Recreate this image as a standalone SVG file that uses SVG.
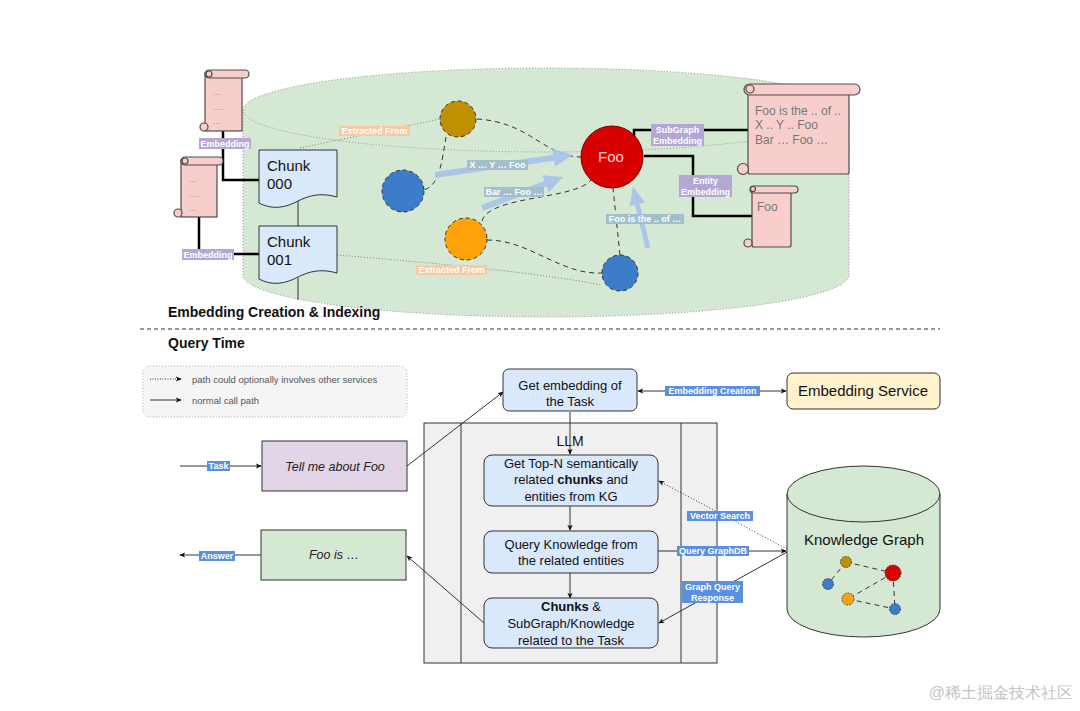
<svg xmlns="http://www.w3.org/2000/svg" width="1080" height="711" viewBox="0 0 1080 711">
<defs>
<style>
text{font-family:"Liberation Sans",Arial,sans-serif;}
.lbl{font-size:9px;font-weight:bold;fill:#fff;text-anchor:middle;}
.pur{fill:#b4a7d6;}
.org{fill:#f9c9a4;}
.tea{fill:#a2bfcb;}
.blu{fill:#5b8fe0;}
.scroll{fill:#f8cecc;stroke:#4d4d4d;stroke-width:1.2;}
.dots{font-size:9px;fill:#999;}
.dash{fill:none;stroke:#333;stroke-width:1;stroke-dasharray:5,4;}
.dot{fill:none;stroke:#666;stroke-width:0.8;stroke-dasharray:1,2;}
.thick{fill:none;stroke:#000;stroke-width:2.5;}
.box{fill:#dae8fc;stroke:#333;stroke-width:1;}
.t13{font-size:13px;fill:#111;text-anchor:middle;}
.line{fill:none;stroke:#333;stroke-width:1;}
.wide{fill:#a9c4eb;opacity:0.95;}
</style>
<marker id="ah" viewBox="0 0 8 8" refX="7" refY="4" markerWidth="6" markerHeight="6" orient="auto-start-reverse" markerUnits="userSpaceOnUse">
<path d="M0,0.5 L8,4 L0,7.5 L2,4 Z" fill="#111"/>
</marker>
</defs>
<rect width="1080" height="711" fill="#fff"/>

<!-- big cylinder -->
<g id="index-store">
<path d="M243,110 A303,42 0 0 1 849,110 V275 A303,42 0 0 1 243,275 Z" fill="#d5e8d4" stroke="#888" stroke-width="0.9" stroke-dasharray="1,2"/>
<path d="M243,110 A303,42 0 0 0 849,110" fill="none" stroke="#888" stroke-width="0.9" stroke-dasharray="1,2"/>
</g>

<g id="llm">
<rect x="424" y="423" width="293" height="240" fill="#f0f0f0" stroke="#333" stroke-width="1"/>
<line x1="461" y1="423" x2="461" y2="663" stroke="#333"/>
<line x1="681" y1="423" x2="681" y2="663" stroke="#333"/>
<text x="570" y="446" font-size="14" fill="#111" text-anchor="middle">LLM</text>
</g>

<!-- connectors -->
<g id="connectors">
<path class="thick" d="M223,131 V180 H260"/>
<path class="thick" d="M199,217 V254 H260"/>
<path class="line" d="M298,201 V226"/>
<path class="line" d="M298,278 V300"/>
<path class="dot" d="M300,148 L440,119"/>
<path class="dot" d="M337,255 C420,262 520,270 602,285"/>
<path class="dash" d="M477,119 C530,122 545,157 581,157"/>
<path class="dash" d="M446,137 C442,160 440,185 424,190"/>
<path class="dash" d="M482,221 C490,195 575,200 591,180"/>
<path class="dash" d="M487,240 C530,240 560,275 602,273"/>
<path class="dash" d="M620,255 L613,188"/>
<g transform="translate(435,175) rotate(-8.3)"><polygon class="wide" points="0,-3 120,-3 120,-9 139,0 120,9 120,3 0,3"/></g>
<g transform="translate(482,208) rotate(-20.9)"><polygon class="wide" points="0,-3 68,-3 68,-9 87,0 68,9 68,3 0,3"/></g>
<g transform="translate(648,248) rotate(-103.8)"><polygon class="wide" points="0,-2.5 45,-2.5 45,-8 63,0 45,8 45,2.5 0,2.5"/></g>
<path class="thick" d="M634,143 V130 H748"/>
<path class="thick" d="M644,156 H693 V216 H752"/>

<line x1="140" y1="329" x2="940" y2="329" stroke="#333" stroke-width="1" stroke-dasharray="4,3"/>
<path class="line" d="M570,412 V454" marker-end="url(#ah)"/>
<path class="line" d="M638,391 H786" marker-start="url(#ah)" marker-end="url(#ah)"/>
<path class="line" d="M570,506 V530" marker-end="url(#ah)"/>
<path class="line" d="M570,573 V598" marker-end="url(#ah)"/>
<path class="line" d="M180,466 H261" marker-end="url(#ah)"/>
<path class="line" d="M407,466 L503,392" marker-end="url(#ah)"/>
<path class="line" d="M484,623 L407,556" marker-end="url(#ah)"/>
<path class="line" d="M261,555 H180" marker-end="url(#ah)"/>
<path class="line" d="M787,549 L659,481" stroke-dasharray="1,2" marker-end="url(#ah)"/>
<path class="line" d="M658,551 H786" marker-end="url(#ah)"/>
<path class="line" d="M787,552 L659,623" marker-end="url(#ah)"/>
</g>

<!-- scrolls -->
<g id="scroll-1">
<rect class="scroll" x="205" y="73" width="37" height="58"/>
<rect class="scroll" x="205" y="70" width="44" height="8" rx="4"/>
<circle class="scroll" cx="209" cy="74" r="3"/>
<circle class="scroll" cx="204" cy="127" r="4"/>
<text class="dots" x="213" y="95">...</text>
<text class="dots" x="213" y="110">....</text>
<text class="dots" x="213" y="124">...</text>
</g>
<g id="scroll-2">
<rect class="scroll" x="181" y="160" width="36" height="57"/>
<rect class="scroll" x="181" y="157" width="42" height="8" rx="4"/>
<circle class="scroll" cx="185" cy="161" r="3"/>
<circle class="scroll" cx="178" cy="213" r="4"/>
<text class="dots" x="189" y="182">...</text>
<text class="dots" x="189" y="197">....</text>
<text class="dots" x="189" y="211">...</text>
</g>
<g id="scroll-subgraph">
<rect class="scroll" x="748" y="90" width="101" height="84" rx="2"/>
<rect class="scroll" x="744" y="84" width="116" height="11" rx="5.5"/>
<circle class="scroll" cx="750" cy="89" r="4"/>
<circle class="scroll" cx="743" cy="169" r="5.5"/>
<text x="755" y="115" font-size="12" fill="#777">Foo is the .. of ..</text>
<text x="755" y="129" font-size="12" fill="#777">X .. Y .. Foo</text>
<text x="755" y="144" font-size="12" fill="#777">Bar … Foo …</text>
</g>
<g id="scroll-entity">
<rect class="scroll" x="752" y="189" width="39" height="58" rx="2"/>
<rect class="scroll" x="750" y="186" width="48" height="7" rx="3.5"/>
<circle class="scroll" cx="753" cy="189" r="2.5"/>
<circle class="scroll" cx="748" cy="243" r="4"/>
<text x="757" y="211" font-size="12" fill="#777">Foo</text>
</g>

<g id="chunk-000">
<path class="box" d="M259,150 H337 V197 C320,192 308,196 298,201 C285,208 272,210 259,203 Z"/>
<text x="267" y="171" font-size="15" fill="#111">Chunk</text>
<text x="267" y="189" font-size="15" fill="#111">000</text>
</g>
<g id="chunk-001">
<path class="box" d="M259,226 H337 V273 C320,268 308,272 298,277 C285,284 272,286 259,279 Z"/>
<text x="267" y="247" font-size="15" fill="#111">Chunk</text>
<text x="267" y="265" font-size="15" fill="#111">001</text>
</g>

<g id="node-gold"><circle cx="458" cy="119" r="18" fill="#bf9000" stroke="#333" stroke-dasharray="4,3"/></g>
<g id="node-blue-left"><circle cx="403" cy="191" r="21" fill="#3d7cc9" stroke="#333" stroke-dasharray="4,3"/></g>
<g id="node-orange"><circle cx="466" cy="239" r="21" fill="#ffa20a" stroke="#333" stroke-dasharray="4,3"/></g>
<g id="node-blue-bottom"><circle cx="620" cy="273" r="18" fill="#3d7cc9" stroke="#333" stroke-dasharray="4,3"/></g>
<g id="node-foo"><circle cx="612" cy="157" r="31" fill="#d80000" stroke="#7a0000" stroke-width="1"/>
<text x="611" y="162" font-size="15" fill="#ffd0d0" text-anchor="middle">Foo</text></g>

<g id="labels-upper">
<rect class="pur" x="199" y="138" width="52" height="11"/><text class="lbl" x="225" y="146.5">Embedding</text>
<rect class="pur" x="182" y="249" width="52" height="11"/><text class="lbl" x="208" y="257.5">Embedding</text>
<rect class="org" x="339" y="126" width="71" height="10"/><text class="lbl" x="374.5" y="134.3">Extracted From</text>
<rect class="org" x="416" y="265" width="71" height="10"/><text class="lbl" x="451.5" y="273.3">Extracted From</text>
<rect class="tea" x="467" y="160" width="61" height="10"/><text class="lbl" x="497.5" y="168.3">X … Y … Foo</text>
<rect class="tea" x="484" y="187" width="60" height="10"/><text class="lbl" x="514" y="195.3">Bar … Foo …</text>
<rect class="tea" x="606" y="214" width="78" height="10"/><text class="lbl" x="645" y="222.3">Foo is the .. of …</text>
<rect class="pur" x="651" y="124" width="53" height="22"/><text class="lbl" x="677.5" y="133">SubGraph</text><text class="lbl" x="677.5" y="144">Embedding</text>
<rect class="pur" x="679" y="175" width="53" height="22"/><text class="lbl" x="705.5" y="184">Entity</text><text class="lbl" x="705.5" y="195">Embedding</text>
</g>

<g id="section-titles">
<text x="168" y="317" font-size="14" font-weight="bold" fill="#111">Embedding Creation &amp; Indexing</text>
<text x="168" y="348" font-size="14" font-weight="bold" fill="#111">Query Time</text>
</g>

<g id="legend">
<rect x="143" y="366" width="264" height="51" rx="7" fill="#f5f5f5" stroke="#999" stroke-width="0.8" stroke-dasharray="1,2"/>
<path class="line" d="M150,379 H181" stroke-dasharray="1,1.5" marker-end="url(#ah)"/>
<text x="192" y="382.5" font-size="9.5" fill="#555">path could optionally involves other services</text>
<path class="line" d="M150,400 H181" marker-end="url(#ah)"/>
<text x="192" y="403.5" font-size="9.5" fill="#555">normal call path</text>
</g>

<g id="get-embedding">
<rect class="box" x="503" y="369" width="134" height="42" rx="6"/>
<text class="t13" x="570" y="390">Get embedding of</text>
<text class="t13" x="570" y="406">the Task</text>
</g>
<g id="embedding-service">
<rect x="787" y="373" width="153" height="36" rx="6" fill="#fff2cc" stroke="#333" stroke-width="1"/>
<text x="863" y="396" font-size="15" fill="#111" text-anchor="middle">Embedding Service</text>
</g>
<g id="top-n">
<rect class="box" x="484" y="455" width="174" height="51" rx="8"/>
<text class="t13" x="571" y="467.5">Get Top-N semantically</text>
<text class="t13" x="571" y="484">related <tspan font-weight="bold">chunks</tspan> and</text>
<text class="t13" x="571" y="500.5">entities from KG</text>
</g>
<g id="query-knowledge">
<rect class="box" x="484" y="531" width="174" height="42" rx="8"/>
<text class="t13" x="571" y="549">Query Knowledge from</text>
<text class="t13" x="571" y="565">the related entities</text>
</g>
<g id="chunks-result">
<rect class="box" x="484" y="598" width="174" height="50" rx="8"/>
<text class="t13" x="571" y="611"><tspan font-weight="bold">Chunks</tspan> &amp;</text>
<text class="t13" x="571" y="628">SubGraph/Knowledge</text>
<text class="t13" x="571" y="645">related to the Task</text>
</g>
<g id="task-box">
<rect x="262" y="441" width="145" height="50" fill="#e1d5e7" stroke="#333" stroke-width="1"/>
<text x="335" y="470.5" font-size="12.5" font-style="italic" fill="#222" text-anchor="middle" font-family="'DejaVu Sans',sans-serif">Tell me about Foo</text>
</g>
<g id="answer-box">
<rect x="261" y="530" width="145" height="50" fill="#d5e8d4" stroke="#333" stroke-width="1"/>
<text x="334" y="559" font-size="12.5" font-style="italic" fill="#222" text-anchor="middle" font-family="'DejaVu Sans',sans-serif">Foo is …</text>
</g>

<g id="knowledge-graph">
<path d="M787,494 A76.5,28 0 0 1 940,494 V609 A76.5,28 0 0 1 787,609 Z" fill="#d5e8d4" stroke="#333" stroke-width="1"/>
<path d="M787,494 A76.5,28 0 0 0 940,494" fill="none" stroke="#333" stroke-width="1"/>
<text x="864" y="545" font-size="15" fill="#111" text-anchor="middle">Knowledge Graph</text>
<path class="dash" d="M846,562 L893,573 M846,562 L828,584 M893,573 L848,599 M893,573 L895,609 M848,599 L895,609" stroke-dasharray="4,3"/>
<circle cx="846" cy="562" r="5.5" fill="#bf9000" stroke="#333" stroke-width="0.8" stroke-dasharray="2,1"/>
<circle cx="893" cy="573" r="8" fill="#d80000" stroke="#333" stroke-width="0.8" stroke-dasharray="2,1"/>
<circle cx="828" cy="584" r="5.5" fill="#3d7cc9" stroke="#333" stroke-width="0.8" stroke-dasharray="2,1"/>
<circle cx="848" cy="599" r="6" fill="#ffa20a" stroke="#333" stroke-width="0.8" stroke-dasharray="2,1"/>
<circle cx="895" cy="609" r="5.5" fill="#3d7cc9" stroke="#333" stroke-width="0.8" stroke-dasharray="2,1"/>
</g>

<g id="labels-lower">
<rect class="blu" x="665" y="386" width="95" height="10"/><text class="lbl" x="712.5" y="394.3">Embedding Creation</text>
<rect class="blu" x="207" y="461" width="23" height="10"/><text class="lbl" x="218.5" y="469.3">Task</text>
<rect class="blu" x="199" y="551" width="36" height="10"/><text class="lbl" x="217" y="559.3">Answer</text>
<rect class="blu" x="687" y="511" width="66" height="10"/><text class="lbl" x="720" y="519.3">Vector Search</text>
<rect class="blu" x="677" y="546" width="72" height="10"/><text class="lbl" x="713" y="554.3">Query GraphDB</text>
<rect class="blu" x="682" y="581" width="61" height="22"/><text class="lbl" x="712.5" y="590">Graph Query</text><text class="lbl" x="712.5" y="601">Response</text>
</g>

<text x="1073" y="698" font-size="16" fill="#c4c4c4" text-anchor="end" font-family="'Liberation Sans','Noto Sans CJK SC',sans-serif">@稀土掘金技术社区</text>
</svg>
